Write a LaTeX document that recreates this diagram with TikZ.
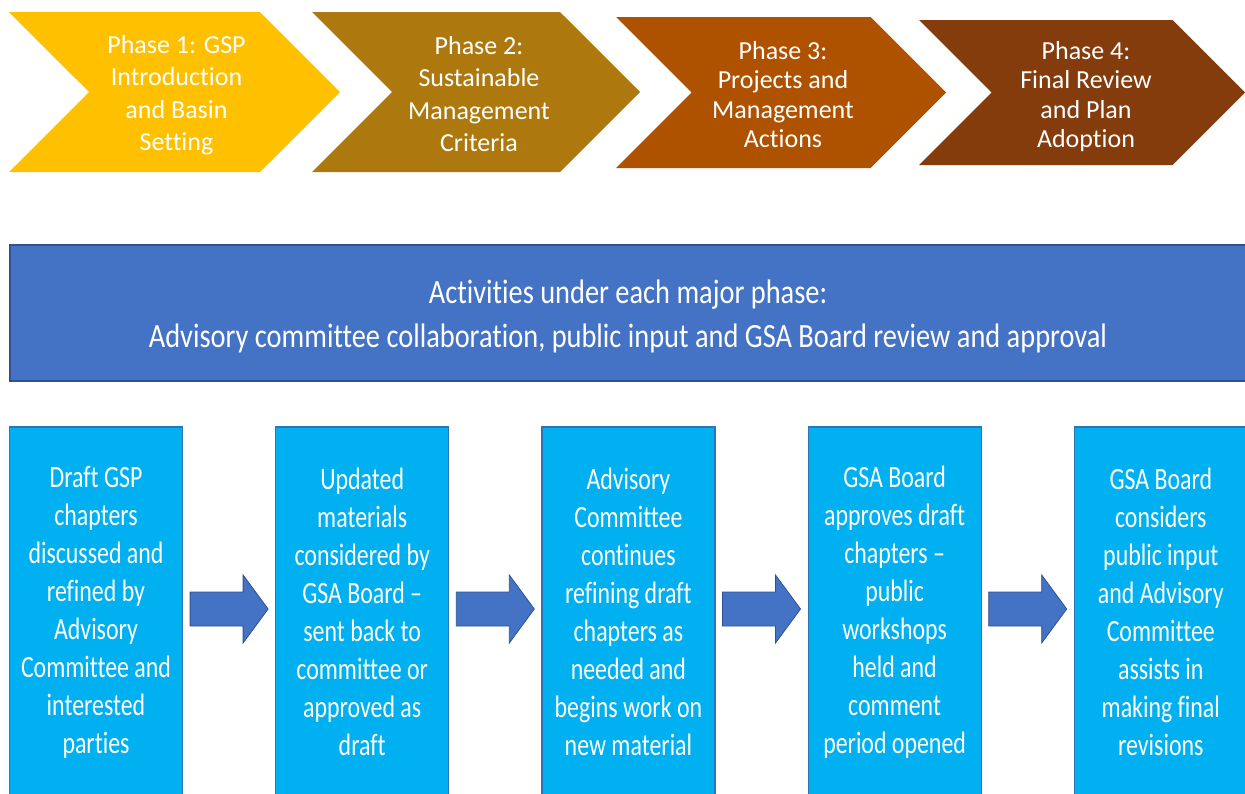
\documentclass[tikz,border=0pt]{standalone}
\usepackage{fontspec}
\defaultfontfeatures{Ligatures={TeX,NoCommon}}
\setmainfont{Carlito}
\newfontfamily\boxfont[FakeStretch=0.77]{Carlito}
\newfontfamily\bannerfont[FakeStretch=0.835]{Carlito}
\usepackage{xcolor}
\usetikzlibrary{shapes.symbols,
                positioning,
                calc}

\definecolor{phaseone}{HTML}{FFC000}
\definecolor{phasetwo}{HTML}{AD790E}
\definecolor{phasethree}{HTML}{AE5200}
\definecolor{phasefour}{HTML}{843C0C}
\definecolor{bannerblue}{HTML}{4472C4}
\definecolor{darkblue}{HTML}{2F528F}
\definecolor{boxblue}{HTML}{00B0F0}
\definecolor{boxline}{HTML}{2E75B6}

% block arrow between two activity boxes
\newcommand{\blockarrow}[2]{%
  \path ($(#1.east)!0.5!(#2.west)+(0,-3)$) coordinate (m);
  \draw[blockarr] ($(m)+(-39,-17)$) -- ($(m)+(14,-17)$) -- ($(m)+(14,-34)$)
    -- ($(m)+(39,0)$) -- ($(m)+(14,34)$) -- ($(m)+(14,17)$) -- ($(m)+(-39,17)$) -- cycle;}

\begin{document}
\begin{tikzpicture}[
        x=1pt, y=-1pt,
        node distance=92pt,
        phase/.style={signal, signal from=west, signal to=east, signal pointer angle=90,
                      inner sep=0pt},
        phasetext/.style={text=white, align=center, inner sep=0pt,
                          font=\fontsize{26}{32.5}\selectfont},
        banner/.style={draw=darkblue, line width=1.2pt, fill=bannerblue,
                       minimum width=1240pt, minimum height=136pt},
        bannertext/.style={text=white, align=center, inner sep=0pt,
                           font=\bannerfont\fontsize{34}{44}\selectfont},
        activity/.style={draw=boxline, line width=1.2pt, fill=boxblue, text=white, align=center,
                         minimum width=173pt, minimum height=370pt, inner sep=0pt,
                         font=\boxfont\fontsize{31}{38}\selectfont},
        blockarr/.style={draw=darkblue, line width=0.8pt, fill=bannerblue, line join=miter}
        ]
        \useasboundingbox (0,0) rectangle (1245,793);

        % Phases
        \node[phase, fill=phaseone, minimum width=331pt, minimum height=160pt] (p1) at (174.5,92) {};
        \node[phasetext] (p1text) at ([xshift=2pt, yshift=-3pt]p1.center)
            {Phase 1: GSP\\Introduction\\and Basin\\Setting};
        \node[phase, fill=phasetwo, minimum width=328pt, minimum height=160pt] (p2) at (476,92) {};
        \node[phasetext] (p2text) at ([xshift=3pt, yshift=-2pt]p2.center)
            {Phase 2:\\Sustainable\\Management\\Criteria};
        \node[phase, fill=phasethree, minimum width=330pt, minimum height=151pt] (p3) at (781,92.5) {};
        \node[phasetext, font=\fontsize{26}{29.5}\selectfont] (p3text) at ([xshift=2pt, yshift=-2pt]p3.center)
            {Phase 3:\\Projects and\\Management\\Actions};
        \node[phase, fill=phasefour, minimum width=326pt, minimum height=145pt] (p4) at (1082,92.5) {};
        \node[phasetext, font=\fontsize{26}{29.5}\selectfont] (p4text) at ([xshift=4pt, yshift=-4pt]p4.center)
            {Phase 4:\\Final Review\\and Plan\\Adoption};

        % Banner
        \node[banner] (activities) at (630,313) {};
        \node[bannertext] (activitiestext) at ([xshift=-2pt, yshift=-3pt]activities.center)
            {Activities under each major phase:\\Advisory committee collaboration, public input and GSA Board review and approval};

        % Activity boxes
        \node[activity] (b1) at (96,612)
            {Draft GSP\\chapters\\discussed and\\refined by\\Advisory\\Committee and\\interested\\parties};
        \node[activity, right=of b1] (b2)
            {Updated\\materials\\considered by\\GSA Board –\\sent back to\\committee or\\approved as\\draft};
        \node[activity, right=of b2] (b3)
            {Advisory\\Committee\\continues\\refining draft\\chapters as\\needed and\\begins work on\\new material};
        \node[activity, right=of b3] (b4)
            {GSA Board\\approves draft\\chapters –\\public\\workshops\\held and\\comment\\period opened};
        \node[activity, right=of b4] (b5)
            {GSA Board\\considers\\public input\\and Advisory\\Committee\\assists in\\making final\\revisions};

        % Arrows
        \blockarrow{b1}{b2}
        \blockarrow{b2}{b3}
        \blockarrow{b3}{b4}
        \blockarrow{b4}{b5}

\end{tikzpicture}
\end{document}
